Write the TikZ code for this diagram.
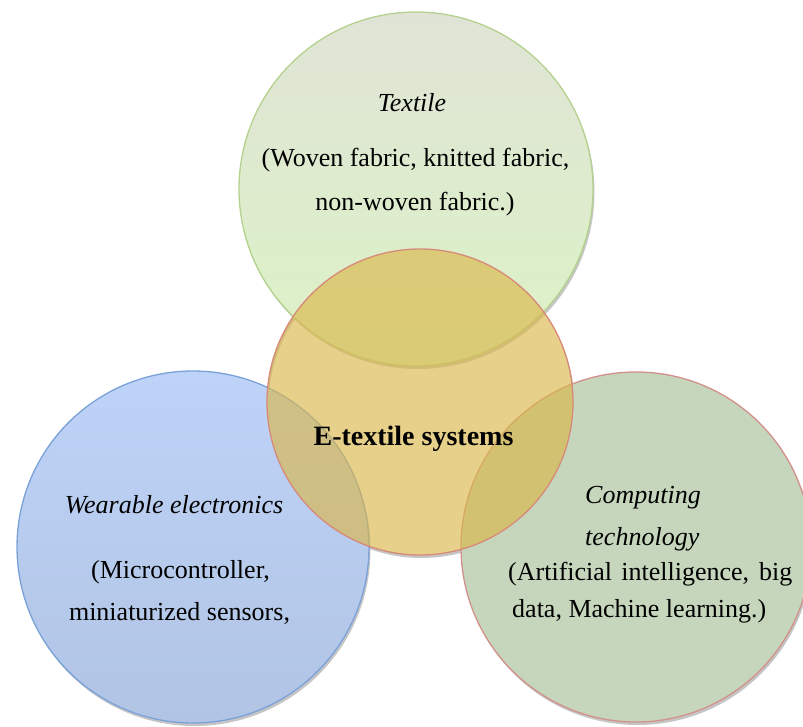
\documentclass[tikz,border=0pt]{standalone}
\usepackage{fontspec}
\setmainfont{Liberation Serif}
\usetikzlibrary{calc}
\definecolor{tgTop}{RGB}{224,228,214}
\definecolor{tgBot}{RGB}{220,243,198}
\definecolor{tgLine}{RGB}{180,210,142}
\definecolor{blTop}{RGB}{190,211,248}
\definecolor{blBot}{RGB}{177,196,228}
\definecolor{blLine}{RGB}{122,162,216}
\definecolor{rgFill}{RGB}{198,214,189}
\definecolor{rgLine}{RGB}{210,145,138}
\definecolor{orFill}{RGB}{218,183,75}
\definecolor{orLine}{RGB}{215,138,120}
\definecolor{shadowc}{RGB}{150,150,150}
\begin{document}
\begin{tikzpicture}[x=1pt,y=-1pt,
  disc/.style={circle, inner sep=0pt, line width=1.3pt},
  lbl/.style={inner sep=0pt, anchor=base, font=\fontsize{26}{30}\selectfont},
  shade/.style={fill=shadowc, fill opacity=0.55, even odd rule}]
\useasboundingbox (0,0) rectangle (803,727);
\clip (0,0) rectangle (803,727);
% shadows (outside rims only)
\fill[shade] (417.5,192) circle (177) (416,189) circle (177);
\fill[shade] (194.5,550) circle (176) (193,547) circle (176);
\fill[shade] (637.5,550) circle (175) (636,547) circle (175);
\fill[shade] (421.5,405) circle (153) (420,402) circle (153);
% circles
\node[disc, minimum size=354pt, top color=tgTop, bottom color=tgBot, draw=tgLine] (T) at (416,189) {};
\node[disc, minimum size=352pt, top color=blTop, bottom color=blBot, draw=blLine] (L) at (193,547) {};
\node[disc, minimum size=350pt, fill=rgFill, draw=rgLine] (R) at (636,547) {};
\node[disc, minimum size=306pt, fill=orFill, fill opacity=0.65, draw=orLine] (O) at (420,402) {};
% texts
\node[lbl, font=\fontsize{26}{30}\selectfont\itshape] (t1) at (412,112) {Textile};
\node[lbl] (t2) at (415.5,167) {(Woven fabric, knitted fabric,};
\node[lbl] (t3) at (415,211) {non-woven fabric.)};
\node[lbl, font=\fontsize{28}{32}\selectfont\bfseries] (e1) at (413.5,445) {E-textile systems};
\node[lbl, font=\fontsize{26}{30}\selectfont\itshape] (w1) at (174,513) {Wearable electronics};
\node[lbl] (w2) at (180.5,578) {(Microcontroller,};
\node[lbl] (w3) at (179.5,620) {miniaturized sensors,};
\node[lbl, anchor=base west, font=\fontsize{26}{30}\selectfont\itshape] (c1) at (585,503) {Computing};
\node[lbl, anchor=base west, font=\fontsize{26}{30}\selectfont\itshape] (c2) at (585,545) {technology};
\node[lbl, anchor=base west] (c3) at (508,580) {\makebox[284pt][s]{(Artificial intelligence, big}};
\node[lbl, anchor=base west] (c4) at (512,617) {data, Machine learning.)};
\end{tikzpicture}
\end{document}
